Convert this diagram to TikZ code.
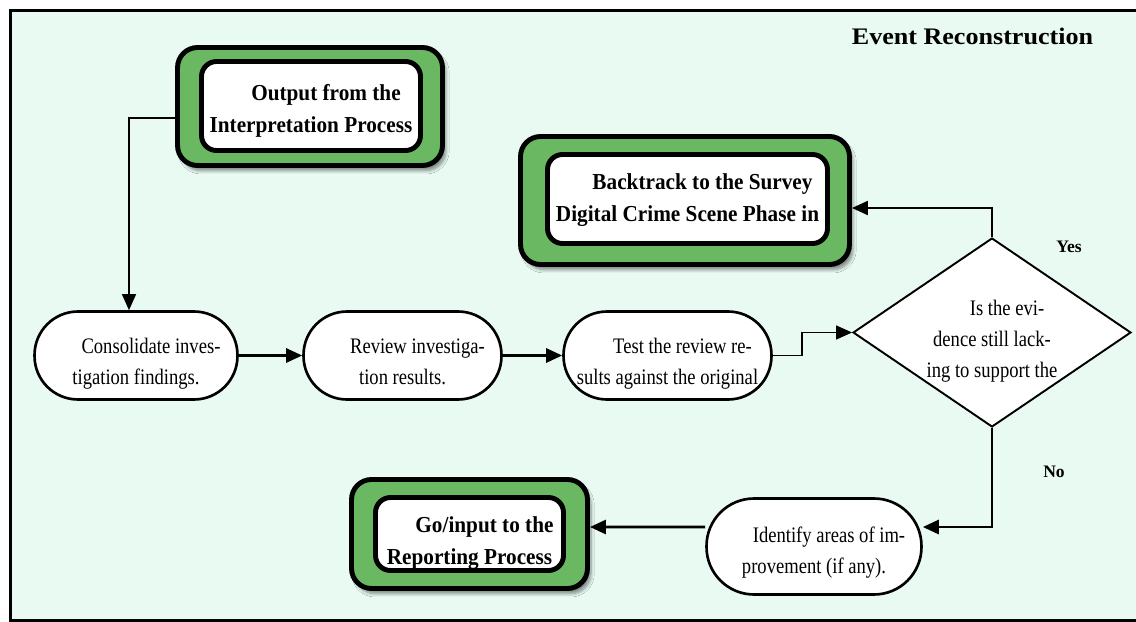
\documentclass[tikz,border=0pt]{standalone}
\usepackage{fontspec}
\setmainfont{Liberation Serif}
\newfontfamily\bodyfont{Liberation Serif}[FakeStretch=0.84]
\newfontfamily\boldboxfont{Liberation Serif}[FakeStretch=0.93]
\newfontfamily\headfont{Liberation Serif}[FakeStretch=1.1]
\usetikzlibrary{shapes.geometric,arrows.meta,shadows.blur}
\definecolor{mint}{RGB}{232,250,242}
\definecolor{boxgreen}{RGB}{107,184,99}
\newcommand\firstind{\hspace*{0.6cm}}

\begin{document}
\begin{tikzpicture}[x=0.02cm,y=-0.02cm,
	txt/.style={font=\bodyfont\fontsize{12.6pt}{17.8pt}\selectfont,align=center,inner sep=0pt},
	boxtxt/.style={font=\boldboxfont\bfseries\fontsize{13pt}{18pt}\selectfont,align=center,inner sep=0pt},
	stadium/.style={draw,line width=1.5pt,fill=white,rounded corners=0.87cm,inner sep=0pt,minimum height=1.76cm},
	decision/.style={diamond,draw,line width=1.1pt,fill=white,inner sep=0pt,minimum width=5.56cm,minimum height=3.78cm},
	outerbox/.style={draw,line width=2.8pt,fill=boxgreen,rounded corners=0.4cm,inner sep=0pt,
		blur shadow={shadow xshift=2pt,shadow yshift=-3pt,shadow blur steps=6,shadow opacity=45}},
	innerbox/.style={draw,line width=2.8pt,fill=white,rounded corners=0.3cm,inner sep=0pt},
	flow/.style={line width=1.6pt,-{Triangle[length=0.32cm,width=0.28cm]}},
	thinflow/.style={line width=0.8pt,-{Triangle[length=0.32cm,width=0.28cm]}}]
	\useasboundingbox (0,0) rectangle (1136,622);
	\draw[line width=2pt,fill=mint] (10.5,10.5) rectangle (1170,620.5);
	
	\node[font=\headfont\bfseries\fontsize{13.5pt}{16pt}\selectfont] (head) at (972.5,36) {Event Reconstruction};
	
	% green boxes
	\node[outerbox,minimum width=5.3cm,minimum height=2.36cm] (outA) at (310,106.5) {};
	\node[innerbox,minimum width=4.38cm,minimum height=1.78cm,
		label={[boxtxt,yshift=-0.1cm]center:{\firstind Output from the\\Interpretation Process}}] (inA) at (311,106) {};
	\node[outerbox,minimum width=6.58cm,minimum height=2.56cm] (outB) at (685,200.5) {};
	\node[innerbox,minimum width=5.6cm,minimum height=1.78cm,
		label={[boxtxt,yshift=-0.02cm]center:{\firstind Backtrack to the Survey\\Digital Crime Scene Phase in}}] (inB) at (687.5,199) {};
	\node[outerbox,minimum width=4.72cm,minimum height=2.18cm] (outC) at (469.5,534) {};
	\node[innerbox,minimum width=3.76cm,minimum height=1.46cm,
		label={[boxtxt,yshift=-0.18cm]center:{\firstind Go/input to the\\Reporting Process}}] (inC) at (469.5,534) {};
	
	% steps
	\node[stadium,minimum width=4.06cm,
		label={[txt,yshift=-0.16cm]center:{\firstind Consolidate inves-\\tigation findings.}}] (cons) at (136,355.5) {};
	\node[stadium,minimum width=3.96cm,
		label={[txt,yshift=-0.13cm]center:{\firstind Review investiga-\\tion results.}}] (rev) at (402.5,355.5) {};
	\node[stadium,minimum width=4.16cm,
		label={[txt,yshift=-0.17cm]center:{\firstind Test the review re-\\sults against the original}}] (test) at (667.5,355.5) {};
	\node[stadium,minimum width=4.3cm,minimum height=1.92cm,rounded corners=0.95cm,
		label={[txt,yshift=-0.12cm]center:{\firstind Identify areas of im-\\provement (if any).}}] (ident) at (814,546.5) {};
	\node[decision,
		label={[txt,yshift=-0.17cm]center:{\firstind Is the evi-\\dence still lack-\\ing to support the}}] (dec) at (992,332.5) {};
	
	\node[font=\bfseries\fontsize{10pt}{12pt}\selectfont] (yes) at (1069,247) {Yes};
	\node[font=\bfseries\fontsize{10pt}{12pt}\selectfont] (no) at (1054,472) {No};
	
	% arrows
	\draw[thinflow] ([yshift=-0.23cm]outA.west) -| ([xshift=-0.14cm]cons.north);
	\draw[flow] (cons.east) -- (rev.west);
	\draw[flow] (rev.east) -- (test.west);
	\draw[thinflow] (test.east) -- ++(0.58cm,0) |- (dec.west);
	\draw[flow,line width=1.2pt] (dec.north) |- ([yshift=-0.15cm]outB.east);
	\draw[flow] (dec.south) |- ([yshift=0.39cm]ident.east);
	\draw[flow] ([yshift=0.39cm]ident.west) -- ([yshift=0.14cm]outC.east);
\end{tikzpicture}
\end{document}
